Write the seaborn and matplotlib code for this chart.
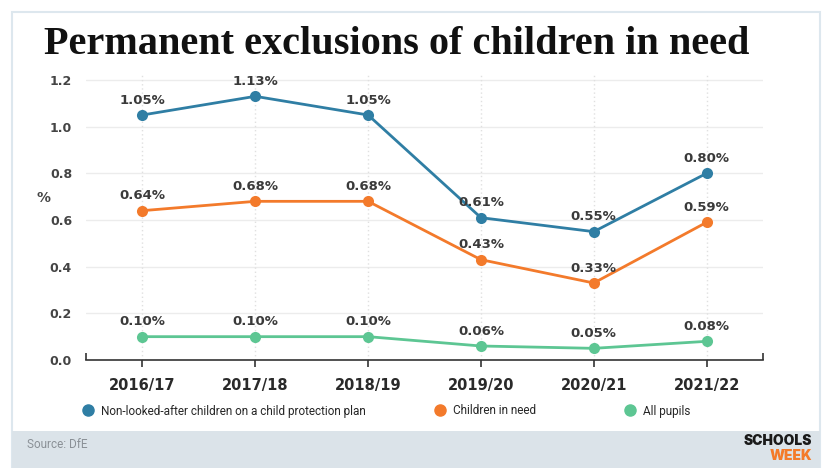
import matplotlib
matplotlib.use("Agg")
import matplotlib.pyplot as plt
import seaborn as sns
import pandas as pd
from matplotlib.patches import Rectangle
from matplotlib.lines import Line2D

years = ["2016/17", "2017/18", "2018/19", "2019/20", "2020/21", "2021/22"]
series_names = ["Non-looked-after children on a child protection plan",
                "Children in need", "All pupils"]
cpp = [1.05, 1.13, 1.05, 0.61, 0.55, 0.80]
cin = [0.64, 0.68, 0.68, 0.43, 0.33, 0.59]
allp = [0.10, 0.10, 0.10, 0.06, 0.05, 0.08]
colors = ["#2f7ea4", "#f37a2b", "#5dc693"]
yticks = [0.0, 0.2, 0.4, 0.6, 0.8, 1.0, 1.2]

rows = []
for name, vals in zip(series_names, [cpp, cin, allp]):
    for i, (y, v) in enumerate(zip(years, vals)):
        rows.append({"year": y, "x": i, "series": name, "value": v})
df = pd.DataFrame(rows)

sns.set_theme(style="white")
plt.rcParams["font.family"] = ["DejaVu Sans"]

W, H = 829, 468
fig = plt.figure(figsize=(W / 100, H / 100), dpi=100)
fig.patch.set_facecolor("white")

# card border and footer band
card = Rectangle((12 / W, 0), (820 - 12) / W, (468 - 12) / H,
                 transform=fig.transFigure, facecolor="white",
                 edgecolor="#dde7ee", lw=1.5, zorder=-3)
foot = Rectangle((12 / W, 0), (820 - 12) / W, (468 - 431) / H,
                 transform=fig.transFigure, facecolor="#dbe3e9",
                 edgecolor="none", zorder=-2)
fig.patches.extend([card, foot])

ax = fig.add_axes([86 / W, (H - 360) / H, (763 - 86) / W, (360 - 75) / H])
ax.set_facecolor("none")
ax.set_zorder(1)

sns.lineplot(data=df, x="x", y="value", hue="series", hue_order=series_names,
             palette=colors, marker="o", markersize=8, markeredgewidth=0,
             linewidth=2, ax=ax, legend=True, zorder=3)

for name, vals in zip(series_names, [cpp, cin, allp]):
    for i, v in enumerate(vals):
        ax.annotate(f"{v:.2f}%", (i, v), xytext=(0, 6), textcoords="offset points",
                    ha="center", va="bottom", fontsize=9.5, fontweight="bold",
                    color="#3a3a3a", zorder=4)

ax.set_xlim(-0.5, 5.5)
ax.set_ylim(0, 1.2214)
ax.set_xticks(range(len(years)))
ax.set_xticklabels(years, fontsize=10.5, fontweight="bold", color="#2a2a2a")
ax.set_yticks(yticks)
ax.set_yticklabels([f"{t:.1f}" for t in yticks], fontsize=9, fontweight="bold",
                   color="#444444")
ax.set_xlabel("")
ax.set_ylabel("%", rotation=0, fontsize=10, fontweight="bold", color="#444444",
              va="center")
ax.yaxis.set_label_coords(-0.063, 0.57)

for s in ["top", "left", "right"]:
    ax.spines[s].set_visible(False)
ax.spines["bottom"].set_color("#333333")
ax.spines["bottom"].set_linewidth(1.2)
ax.tick_params(axis="x", which="major", direction="out", length=5, width=1.2,
               color="#333333", pad=8, bottom=True)
ax.set_xticks([-0.5, 5.5], minor=True)
ax.tick_params(axis="x", which="minor", direction="in", length=5, width=1.2,
               color="#333333", bottom=True)
ax.tick_params(axis="y", length=0, pad=10)

for t in yticks[1:]:
    ax.axhline(t, color="#ececec", lw=1, zorder=1)
for i in range(len(years)):
    ax.axvline(i, color="#e0e0e0", lw=1, ls=(0, (1, 2)), zorder=1)

ax.get_legend().remove()
leg_x = [91, 443, 633]
for c, name, lx in zip(colors, series_names, leg_x):
    h = Line2D([], [], marker="o", color=c, ls="none", markersize=8)
    fig.legend([h], [name], loc="center left",
               bbox_to_anchor=((lx - 12) / W, 1 - 411 / H),
               frameon=False, handletextpad=0.5, handlelength=1.2,
               borderpad=0.2, borderaxespad=0,
               prop={"family": ["Liberation Sans Narrow", "Roboto", "DejaVu Sans"],
                     "size": 8.5})

fig.text(44 / W, 1 - 45 / H, "Permanent exclusions of children in need",
         fontsize=29, fontweight="bold", family=["Liberation Serif", "DejaVu Serif"],
         color="#111111", va="center", ha="left")

fig.text(27 / W, 1 - 444 / H, "Source: DfE", fontsize=8.5, color="#8a9096",
         family=["Liberation Sans Narrow", "Roboto", "DejaVu Sans"], va="center")
fig.text(812 / W, 1 - 441 / H, "SCHOOLS", fontsize=10, fontweight="black",
         color="#1a1a1a", ha="right", va="center", family=["Inter", "DejaVu Sans"])
fig.text(812 / W, 1 - 456 / H, "WEEK", fontsize=10, fontweight="black",
         color="#f47b2a", ha="right", va="center", family=["Inter", "DejaVu Sans"])

fig.savefig("out.png", dpi=100)
